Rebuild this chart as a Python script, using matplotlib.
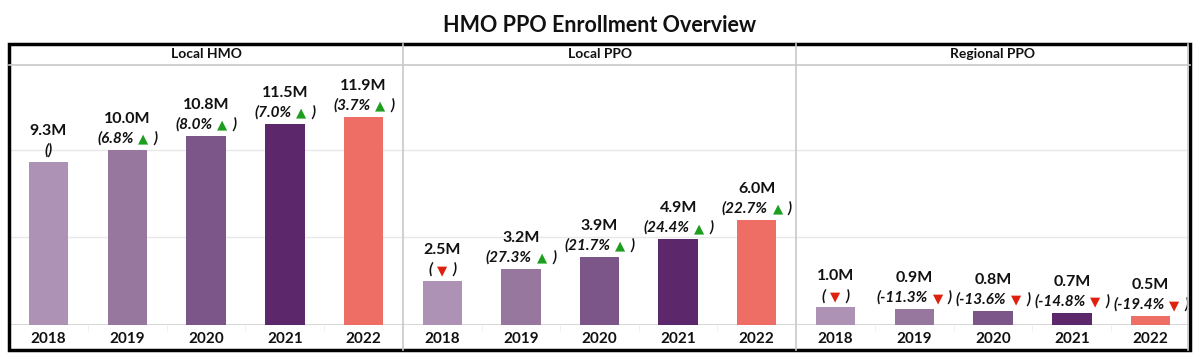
import matplotlib
matplotlib.use("Agg")
import matplotlib.pyplot as plt
from matplotlib.lines import Line2D
from matplotlib.patches import Rectangle
from matplotlib.offsetbox import TextArea, HPacker, VPacker, AnnotationBbox

# data
years = ['2018', '2019', '2020', '2021', '2022']
plans = ['Local HMO', 'Local PPO', 'Regional PPO']
hmo_local = [9.3, 10.0, 10.8, 11.5, 11.9]
ppo_local = [2.5, 3.2, 3.9, 4.9, 6.0]
ppo_regional = [1.0, 0.9, 0.8, 0.7, 0.5]
hmo_local_chg = [None, 6.8, 8.0, 7.0, 3.7]
ppo_local_chg = [None, 27.3, 21.7, 24.4, 22.7]
ppo_regional_chg = [None, -11.3, -13.6, -14.8, -19.4]
first_marker = ['', '▼', '▼']   # what the 2018 label shows in each panel

values = [hmo_local, ppo_local, ppo_regional]
changes = [hmo_local_chg, ppo_local_chg, ppo_regional_chg]

colors = ['#AD92B5', '#98779F', '#7D5689', '#5C276B', '#EE6E66']
UP = '#1E9E1E'
DOWN = '#E0200E'
FONT = ['Lato', 'DejaVu Sans']
plt.rcParams['font.family'] = FONT

W, H = 1200, 360
fig = plt.figure(figsize=(W / 100, H / 100), dpi=100)

def fx(x):
    return x / W

def fy(y):
    return 1 - y / H

edges = [9, 403, 796, 1190]
top_px, base_px, bottom_px, head_px = 44, 325, 350, 65
grid_c = '#e8e8e8'
sep_c = '#c8c8c8'

for i, plan in enumerate(plans):
    ax = fig.add_axes([fx(edges[i]), fy(base_px), fx(edges[i + 1] - edges[i]),
                       (base_px - head_px) / H])
    vals = values[i]
    ax.bar(range(len(years)), vals, width=0.5, color=colors, zorder=2)
    ax.set_xlim(-0.5, 4.5)
    ax.set_ylim(0, 14.85)
    ax.set_yticks([5, 10])
    ax.set_yticklabels([])
    ax.tick_params(axis='y', length=0)
    ax.grid(axis='y', color=grid_c, lw=1)
    ax.set_axisbelow(True)
    for s in ax.spines.values():
        s.set_visible(False)
    ax.axhline(0, color='#cfcfcf', lw=1.2, zorder=1)
    ax.set_xticks(range(len(years)))
    ax.set_xticklabels(years, fontsize=11, fontweight='bold', color='#111111')
    ax.tick_params(axis='x', length=0, pad=5)
    ax.set_xticks([0.5, 1.5, 2.5, 3.5], minor=True)
    ax.tick_params(axis='x', which='minor', length=4, color='#eeeeee')

    for j, v in enumerate(vals):
        c = changes[i][j]
        it = dict(fontsize=11, fontstyle='italic', fontweight='bold',
                  color='#111111', family=FONT)
        tri = dict(fontsize=9.5, family='DejaVu Sans')
        if c is None:
            if first_marker[i]:
                parts = [TextArea('(', textprops=it),
                         TextArea(first_marker[i], textprops=dict(tri, color=DOWN)),
                         TextArea(')', textprops=it)]
            else:
                parts = [TextArea('()', textprops=it)]
        else:
            mark = '▲' if c >= 0 else '▼'
            mc = UP if c >= 0 else DOWN
            parts = [TextArea(f'({c:.1f}%', textprops=it),
                     TextArea(mark, textprops=dict(tri, color=mc)),
                     TextArea(')', textprops=it)]
        line2 = HPacker(children=parts, align='baseline', pad=0, sep=3.5)
        line1 = TextArea(f'{v:.1f}M', textprops=dict(fontsize=11.5, fontweight='bold',
                                                     color='#111111', family=FONT))
        box = VPacker(children=[line1, line2], align='center', pad=0, sep=4)
        ab = AnnotationBbox(box, (j, v), xybox=(0, 3), xycoords='data',
                            boxcoords='offset points', box_alignment=(0.5, 0),
                            frameon=False, annotation_clip=False)
        ax.add_artist(ab)

    fig.text(fx((edges[i] + edges[i + 1]) / 2), fy(54.5), plan, ha='center', va='center',
             fontsize=10, fontweight='bold', color='#111111')

# header line and panel separators
fig.add_artist(Line2D([fx(edges[0]), fx(edges[-1])], [fy(head_px), fy(head_px)],
                      color=sep_c, lw=1.2))
for e in edges[1:-1]:
    fig.add_artist(Line2D([fx(e), fx(e)], [fy(top_px), fy(bottom_px)], color=sep_c, lw=1.2))
fig.add_artist(Line2D([fx(1188), fx(1188)], [fy(top_px), fy(bottom_px)], color=sep_c, lw=1.2))

# outer frame
fig.add_artist(Rectangle((fx(edges[0]), fy(bottom_px)), fx(edges[-1] - edges[0]),
                         (bottom_px - top_px) / H, fill=False, ec='black', lw=2.5,
                         transform=fig.transFigure))

fig.text(0.5, fy(25), 'HMO PPO Enrollment Overview', ha='center', va='center',
         fontsize=15.5, fontweight='bold', color='#111111')

fig.savefig('out.png', dpi=100)
